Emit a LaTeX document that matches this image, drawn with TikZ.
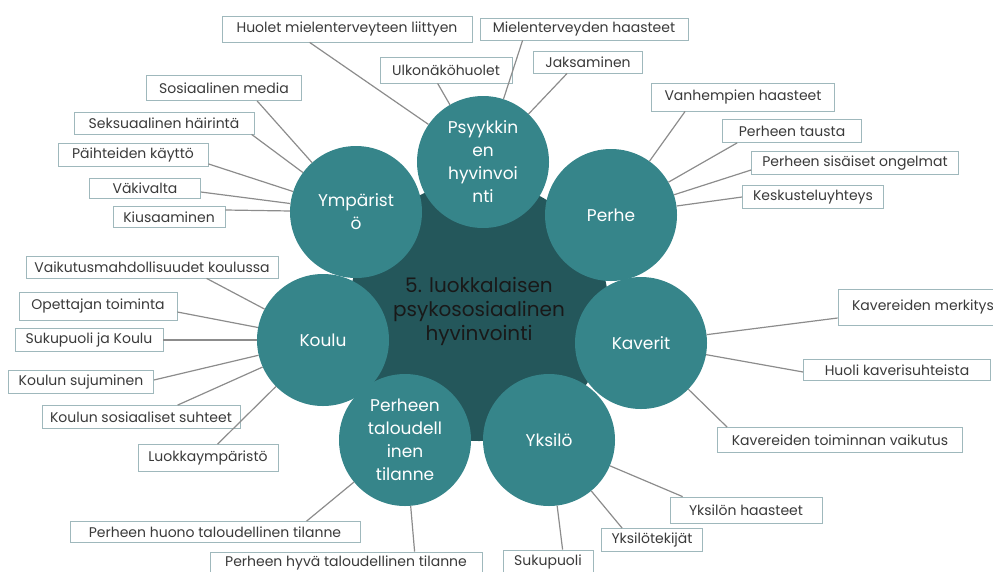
\documentclass[tikz,border=0pt]{standalone}
\usepackage{fontspec}
\setmainfont{Poppins}
\usepackage{tikz}
\definecolor{hubteal}{HTML}{36858A}
\definecolor{coreteal}{HTML}{24575B}
\definecolor{boxline}{HTML}{9FB8BC}
\definecolor{linkgray}{HTML}{8C8C8C}
\definecolor{leaftext}{HTML}{3A3A3A}
\begin{document}
\begin{tikzpicture}[x=1pt,y=-1pt]
        \tikzstyle{every node}+=[inner sep=0pt]
        \tikzstyle{core}=[circle,fill=coreteal,minimum size=260pt,align=center,text=black!90,font=\fontsize{20}{24}\selectfont]
        \tikzstyle{hub}=[circle,fill=hubteal,minimum size=132pt,align=center,text=white,font=\fontsize{17}{23}\selectfont]
        \tikzstyle{leaf}=[draw=boxline,line width=0.8pt,fill=white,text=leaftext,font=\fontsize{14}{16}\selectfont]
        \tikzstyle{link}=[draw=linkgray,line width=1.2pt]
        \useasboundingbox (0,0) rectangle (993,571);
        \node [core] (core) at (479,311) {5. luokkalaisen\\psykososiaalinen\\hyvinvointi};
        \node [hub] (psy) at (483,162) {Psyykkin\\en\\hyvinvoi\\nti};
        \node [hub] (perhe) at (611,215) {Perhe};
        \node [hub] (kaverit) at (641,343) {Kaverit};
        \node [hub] (yksilo) at (549,440) {Yksilö};
        \node [hub] (talous) at (405,440) {Perheen\\taloudell\\inen\\tilanne};
        \node [hub] (koulu) at (323,340) {Koulu};
        \node [hub] (ymp) at (356,212) {Ympärist\\ö};
        \node [leaf,minimum width=250pt,minimum height=26pt] (huolet) at (347,29) {Huolet mielenterveyteen liittyen};
        \node [leaf,minimum width=208pt,minimum height=22pt] (mielen) at (584,29) {Mielenterveyden haasteet};
        \node [leaf,minimum width=132pt,minimum height=26pt] (ulko) at (446,70) {Ulkonäköhuolet};
        \node [leaf,minimum width=109pt,minimum height=22pt] (jaks) at (588,62) {Jaksaminen};
        \node [leaf,minimum width=155pt,minimum height=25pt] (some) at (224,88) {Sosiaalinen media};
        \node [leaf,minimum width=180pt,minimum height=22pt] (seks) at (164,123) {Seksuaalinen häirintä};
        \node [leaf,minimum width=150pt,minimum height=23pt] (paih) at (133,155) {Päihteiden käyttö};
        \node [leaf,minimum width=111pt,minimum height=20pt] (vaki) at (145,188) {Väkivalta};
        \node [leaf,minimum width=112pt,minimum height=21pt] (kius) at (169,217) {Kiusaaminen};
        \node [leaf,minimum width=252pt,minimum height=22pt] (vaik) at (152,267) {Vaikutusmahdollisuudet koulussa};
        \node [leaf,minimum width=158pt,minimum height=28pt] (opet) at (98,306) {Opettajan toiminta};
        \node [leaf,minimum width=148pt,minimum height=23pt] (suku) at (89,340) {Sukupuoli ja Koulu};
        \node [leaf,minimum width=145pt,minimum height=23pt] (sujum) at (81,382) {Koulun sujuminen};
        \node [leaf,minimum width=198pt,minimum height=23pt] (sosi) at (141,417) {Koulun sosiaaliset suhteet};
        \node [leaf,minimum width=140pt,minimum height=27pt] (luok) at (208,458) {Luokkaympäristö};
        \node [leaf,minimum width=290pt,minimum height=21pt] (huono) at (215,532) {Perheen huono taloudellinen tilanne};
        \node [leaf,minimum width=272pt,minimum height=22pt] (hyva) at (346,563) {Perheen hyvä taloudellinen tilanne};
        \node [leaf,minimum width=170pt,minimum height=36pt] (merk) at (923,307) {Kavereiden merkitys};
        \node [leaf,minimum width=187pt,minimum height=21pt] (huoli) at (897,370) {Huoli kaverisuhteista};
        \node [leaf,minimum width=245pt,minimum height=25pt] (toim) at (840,440) {Kavereiden toiminnan vaikutus};
        \node [leaf,minimum width=152pt,minimum height=26pt] (yhaas) at (746,510) {Yksilön haasteet};
        \node [leaf,minimum width=101pt,minimum height=23pt] (ytek) at (652,540) {Yksilötekijät};
        \node [leaf,minimum width=90pt,minimum height=24pt] (sukup) at (548,562) {Sukupuoli};
        \node [leaf,minimum width=183pt,minimum height=28pt] (vanh) at (743,97) {Vanhempien haasteet};
        \node [leaf,minimum width=139pt,minimum height=23pt] (taus) at (792,131) {Perheen tausta};
        \node [leaf,minimum width=207pt,minimum height=23pt] (sisa) at (855,163) {Perheen sisäiset ongelmat};
        \node [leaf,minimum width=141pt,minimum height=23pt] (kesk) at (813,197) {Keskusteluyhteys};
        \draw [link] (huolet.south west) ++(88,0) -- (psy);
        \draw [link] (mielen.south west) ++(43,0) -- (psy);
        \draw [link] (ulko.south west) ++(58,0) -- (psy);
        \draw [link] (jaks.south west) ++(34,0) -- (psy);
        \draw [link] (some.south west) ++(111,0) -- (ymp);
        \draw [link] (seks.south west) ++(178,0) -- (ymp);
        \draw [link] (paih.south east) ++(0,-3) -- (ymp);
        \draw [link] (vaki.east) ++(0,4) -- (ymp);
        \draw [link] (kius.east) ++(0,-7) -- (ymp);
        \draw [link] (vaik.south west) ++(181,0) -- (koulu);
        \draw [link] (opet.east) ++(0,6) -- (koulu);
        \draw [link] (suku.east) -- (koulu);
        \draw [link] (sujum.east) ++(0,-2) -- (koulu);
        \draw [link] (sosi.north west) ++(136,0) -- (koulu);
        \draw [link] (luok.north west) ++(80,0) -- (koulu);
        \draw [link] (huono.north west) ++(237,0) -- (talous);
        \draw [link] (hyva.north west) ++(205,0) -- (talous);
        \draw [link] (merk.west) ++(0,11) -- (kaverit);
        \draw [link] (huoli.west) ++(0,2) -- (kaverit);
        \draw [link] (toim.north west) ++(10,0) -- (kaverit);
        \draw [link] (yhaas.north west) ++(13,0) -- (yksilo);
        \draw [link] (ytek.north west) ++(21,0) -- (yksilo);
        \draw [link] (sukup.north west) ++(60,0) -- (yksilo);
        \draw [link] (vanh.south west) ++(34,0) -- (perhe);
        \draw [link] (taus.south west) ++(15,0) -- (perhe);
        \draw [link] (sisa.west) ++(0,7) -- (perhe);
        \draw [link] (kesk.west) -- (perhe);
    \end{tikzpicture}
\end{document}
